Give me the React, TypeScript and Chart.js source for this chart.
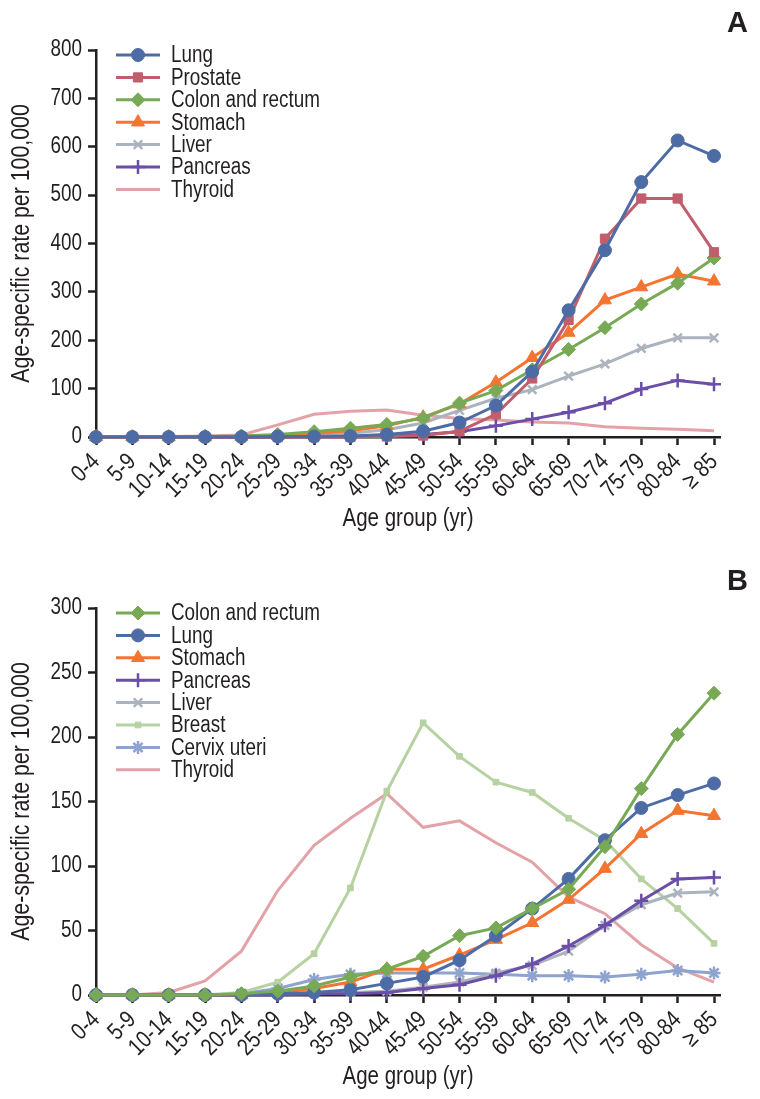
import React, { useEffect, useRef } from 'react';
import { Chart, registerables } from 'chart.js';
import { drawPoint } from 'chart.js/helpers';
Chart.register(...registerables);

const ageGroups = ['0-4', '5-9', '10-14', '15-19', '20-24', '25-29', '30-34', '35-39', '40-44', '45-49', '50-54', '55-59', '60-64', '65-69', '70-74', '75-79', '80-84', '≥ 85'];

// Panel A
const aLung = [0, 0, 0, 0, 0, 1, 1, 2, 5, 12, 30, 65, 135, 262, 386, 527, 613, 581];
const aProstate = [0, 0, 0, 0, 0, 0, 0, 0, 1, 3, 12, 47, 121, 242, 410, 493, 493, 382];
const aColon = [0, 0, 0, 1, 2, 5, 11, 18, 26, 39, 70, 96, 139, 181, 226, 275, 318, 370];
const aStomach = [0, 0, 0, 0, 1, 3, 7, 13, 23, 41, 68, 113, 164, 216, 283, 310, 337, 322];
const aLiver = [0, 0, 0, 0, 1, 2, 4, 8, 15, 29, 55, 80, 98, 126, 151, 183, 205, 205];
const aPancreas = [0, 0, 0, 0, 0, 0, 1, 1, 2, 5, 11, 23, 37, 51, 70, 99, 117, 109];
const aThyroid = [0, 0, 1, 2, 4, 25, 47, 53, 56, 45, 38, 35, 31, 29, 21, 18, 16, 13];

// Panel B
const bColon = [0, 0, 0, 0, 1, 3, 7, 14, 20, 30, 46, 52, 67, 82, 115, 160, 202, 234];
const bLung = [0, 0, 0, 0, 0, 1, 2, 4, 9, 14, 27, 46, 67, 90, 120, 145, 155, 164];
const bStomach = [0, 0, 0, 0, 0, 2, 5, 10, 20, 20, 31, 43, 56, 74, 98, 125, 143, 139];
const bPancreas = [0, 0, 0, 0, 0, 0, 1, 1, 2, 5, 8, 15, 24, 38, 54, 73, 90, 91];
const bLiver = [0, 0, 0, 0, 0, 1, 1, 2, 3, 6, 10, 17, 23, 34, 54, 70, 79, 80];
const bBreast = [0, 0, 0, 0, 2, 10, 32, 83, 158, 211, 185, 165, 157, 137, 120, 90, 67, 40];
const bCervix = [0, 0, 0, 0, 1, 5, 12, 16, 17, 17, 17, 16, 15, 15, 14, 16, 19, 17];
const bThyroid = [0, 0, 2, 11, 34, 81, 116, 137, 156, 130, 135, 118, 103, 76, 63, 39, 21, 10];

const aTicks = { max: 800, step: 100 };
const bTicks = { max: 300, step: 50 };

const C = {
  lung: '#4d6ca6',
  prostate: '#c25d6b',
  colon: '#78aa55',
  stomach: '#f47432',
  liver: '#abb3be',
  pancreas: '#6a4ea8',
  thyroid: '#e3a2a8',
  breast: '#b6d1a2',
  cervix: '#8ea3cd',
};

// Condensed look: Liberation Sans drawn with a horizontal squeeze
const FONT = '"Liberation Sans", Arial, sans-serif';
const SX = 0.82;
const TXT = '#231f20';

function ds(label: string, values: number[], color: string, pointStyle: any, radius: number) {
  return {
    label,
    data: values.map((y, i) => ({ x: i, y })),
    borderColor: color,
    backgroundColor: color,
    pointBackgroundColor: color,
    pointBorderColor: color,
    borderWidth: 3,
    pointStyle,
    pointRadius: pointStyle === false ? 0 : radius,
    pointBorderWidth: pointStyle === 'cross' || pointStyle === 'crossRot' || pointStyle === 'star' ? 2.5 : 1,
    tension: 0,
    clip: false as any,
  };
}

function Panel({ top, datasets, ticks, letter }: any) {
  const ref = useRef<HTMLCanvasElement>(null);
  useEffect(() => {
    const canvas = ref.current as HTMLCanvasElement;
    const c2d: any = canvas.getContext('2d');
    const origFill = c2d.fillText.bind(c2d);
    const origMeasure = c2d.measureText.bind(c2d);
    c2d.fillText = (t: string, x: number, y: number) => {
      c2d.save();
      c2d.translate(x, y);
      c2d.scale(SX, 1);
      origFill(t, 0, 0);
      c2d.restore();
    };
    c2d.measureText = (t: string) => {
      const m = origMeasure(t);
      return {
        width: m.width * SX,
        actualBoundingBoxAscent: m.actualBoundingBoxAscent,
        actualBoundingBoxDescent: m.actualBoundingBoxDescent,
        actualBoundingBoxLeft: m.actualBoundingBoxLeft * SX,
        actualBoundingBoxRight: m.actualBoundingBoxRight * SX,
        fontBoundingBoxAscent: m.fontBoundingBoxAscent,
        fontBoundingBoxDescent: m.fontBoundingBoxDescent,
      };
    };
    const legendPlugin = {
      id: 'inlineLegend',
      afterDraw(chart: any) {
        const ctx = chart.ctx;
        ctx.save();
        chart.data.datasets.forEach((d: any, i: number) => {
          const y = 55 + i * 22.4;
          ctx.strokeStyle = d.borderColor;
          ctx.lineWidth = d.borderWidth;
          ctx.beginPath();
          ctx.moveTo(116, y);
          ctx.lineTo(160, y);
          ctx.stroke();
          if (d.pointStyle !== false) {
            ctx.fillStyle = d.pointBackgroundColor;
            ctx.strokeStyle = d.pointBorderColor;
            ctx.lineWidth = d.pointBorderWidth;
            drawPoint(ctx, { pointStyle: d.pointStyle, radius: d.pointRadius, rotation: 0, borderWidth: d.pointBorderWidth }, 138, y);
          }
          ctx.fillStyle = TXT;
          ctx.font = '23px ' + FONT;
          ctx.textAlign = 'left';
          ctx.textBaseline = 'middle';
          ctx.fillText(d.label, 171, y + 1);
        });
        ctx.font = 'bold 29px ' + FONT;
        ctx.textAlign = 'right';
        ctx.textBaseline = 'middle';
        ctx.fillStyle = TXT;
        origFill(letter, 748, 24);
        ctx.restore();
      },
    };
    const chart = new Chart(canvas, {
      type: 'line',
      data: { datasets },
      plugins: [legendPlugin],
      options: {
        animation: false,
        responsive: false,
        layout: { padding: { top: 50, right: 40, left: 0, bottom: 0 } },
        plugins: { legend: { display: false }, tooltip: { enabled: false } },
        scales: {
          x: {
            type: 'linear',
            min: 0,
            max: 17.165,
            afterFit: (s: any) => { s.height = 104; },
            ticks: {
              stepSize: 1,
              autoSkip: false,
              includeBounds: false,
              minRotation: 45,
              maxRotation: 45,
              padding: 3,
              color: TXT,
              font: { family: FONT, size: 24 },
              callback: (v: any) => {
                const r = Math.round(v);
                return Math.abs(r - v) < 1e-6 ? ageGroups[r] : '';
              },
            },
            grid: { display: true, drawOnChartArea: false, drawTicks: true, tickLength: 8, tickWidth: 2.5, tickColor: TXT },
            border: { display: true, color: TXT, width: 2.5 },
            title: { display: true, text: 'Age group (yr)', color: TXT, font: { family: FONT, size: 25 }, padding: { top: 0, bottom: 7 } },
          },
          y: {
            min: 0,
            max: ticks.max,
            afterFit: (s: any) => { s.width = 96; },
            ticks: { stepSize: ticks.step, color: TXT, padding: 6, font: { family: FONT, size: 23 } },
            grid: { display: true, drawOnChartArea: false, drawTicks: true, tickLength: 8, tickWidth: 2.5, tickColor: TXT },
            border: { display: true, color: TXT, width: 2.5 },
            title: { display: true, text: 'Age-specific rate per 100,000', color: TXT, font: { family: FONT, size: 26 }, padding: { top: 6, bottom: 0 } },
          },
        },
      } as any,
    });
    return () => {
      chart.destroy();
      c2d.fillText = origFill;
      c2d.measureText = origMeasure;
    };
  }, []);
  return (
    <div style={{ position: 'absolute', left: 0, top, width: 760, height: 541 }}>
      <canvas ref={ref} width={760} height={541} style={{ display: 'block' }} />
    </div>
  );
}

export default function App() {
  useEffect(() => {
    document.body.style.margin = '0';
    document.body.style.background = '#ffffff';
  }, []);
  const dsA = [
    ds('Lung', aLung, C.lung, 'circle', 6.5),
    ds('Prostate', aProstate, C.prostate, 'rect', 6.5),
    ds('Colon and rectum', aColon, C.colon, 'rectRot', 7),
    ds('Stomach', aStomach, C.stomach, 'triangle', 7.5),
    ds('Liver', aLiver, C.liver, 'crossRot', 6),
    ds('Pancreas', aPancreas, C.pancreas, 'cross', 7),
    ds('Thyroid', aThyroid, C.thyroid, false, 0),
  ];
  const dsB = [
    ds('Colon and rectum', bColon, C.colon, 'rectRot', 7),
    ds('Lung', bLung, C.lung, 'circle', 6.5),
    ds('Stomach', bStomach, C.stomach, 'triangle', 7.5),
    ds('Pancreas', bPancreas, C.pancreas, 'cross', 7),
    ds('Liver', bLiver, C.liver, 'crossRot', 6),
    ds('Breast', bBreast, C.breast, 'rect', 4),
    ds('Cervix uteri', bCervix, C.cervix, 'star', 6.5),
    ds('Thyroid', bThyroid, C.thyroid, false, 0),
  ];
  return (
    <div style={{ position: 'relative', width: 760, height: 1099, background: '#fff' }}>
      <Panel top={0} datasets={dsA} ticks={aTicks} letter="A" />
      <Panel top={558} datasets={dsB} ticks={bTicks} letter="B" />
    </div>
  );
}
